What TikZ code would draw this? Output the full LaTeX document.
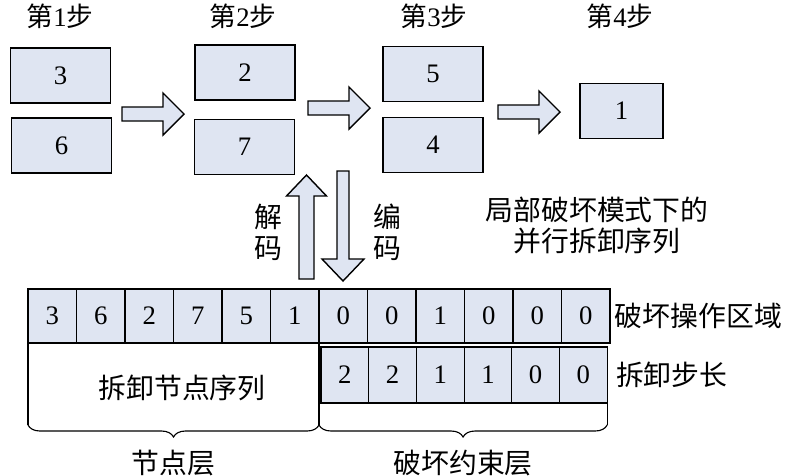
\documentclass[tikz,border=0pt]{standalone}
\usepackage{fontspec}
\usepackage{xcolor}
\usepackage{tikz}
\setmainfont{Liberation Serif}
\newfontfamily\cjk{Noto Sans CJK SC}
\usetikzlibrary{positioning,calc,decorations.pathreplacing}

\definecolor{boxfill}{RGB}{223,229,242}
\newcommand{\stepno}[1]{{\cjk 第}#1{\cjk 步}}

\begin{document}
\begin{tikzpicture}[x=0.025cm, y=-0.025cm, font=\fontsize{19}{22}\selectfont,
    blk/.style={draw, line width=1pt, fill=boxfill, minimum width=2.5cm, minimum height=1.375cm},
    cell/.style={draw, line width=0.8pt, fill=boxfill, minimum width=1.2125cm, minimum height=1.35cm, outer sep=0pt},
    cellb/.style={cell, minimum width=1.19cm, minimum height=1.4cm},
    fat/.style={draw, line width=1pt, fill=boxfill, line join=miter},
    cn/.style={font=\fontsize{19.8}{22}\selectfont\cjk}]
    \useasboundingbox (0,0) rectangle (800,475);

    % steps
    \node (s1) at (60,16) {\stepno{1}};
    \node (s2) at (243,16) {\stepno{2}};
    \node (s3) at (434,16) {\stepno{3}};
    \node (s4) at (620,16) {\stepno{4}};

    \node[blk] (b3) at (60.5,75.5) {3};
    \node[blk] (b6) at (61.5,145.5) {6};
    \node[blk] (b2) at (245,72.5) {2};
    \node[blk] (b7) at (244.5,147) {7};
    \node[blk] (b5) at (433,74) {5};
    \node[blk] (b4) at (433,145) {4};
    \node[blk, minimum width=2.08cm] (b1) at (621.5,111) {1};

    % block arrows between steps
    \coordinate (a1) at (122,114);
    \coordinate (a2) at (308,108);
    \coordinate (a3) at (498,112);
    \foreach \a in {a1,a2,a3}
        \draw[fat] (\a) -- ++(0,-7) -- ++(41,0) -- ++(0,-14) -- ++(21,21)
            -- ++(-21,21) -- ++(0,-14) -- ++(-41,0) -- cycle;

    % decode / encode
    \coordinate (up) at (306.5,279);
    \coordinate (dn) at (343,171);
    \draw[fat] (up) -- ++(7.5,0) -- ++(0,-83) -- ++(12.5,0) -- ++(-20,-21)
        -- ++(-20,21) -- ++(12.5,0) -- ++(0,83) -- cycle;
    \draw[fat] (dn) -- ++(6,0) -- ++(0,88) -- ++(15,0) -- ++(-21,22)
        -- ++(-21,-22) -- ++(15,0) -- ++(0,-88) -- cycle;
    \node[cn, align=center] (dec) at (268,232) {解\\码};
    \node[cn, align=center] (enc) at (387,232) {编\\码};

    \node[cn, align=center] (par) at (597,225) {局部破坏模式下的\\并行拆卸序列};

    % chromosome
    \foreach \v [count=\i] in {3,6,2,7,5,1,0,0,1,0,0,0}
        \node[cell] (c\i) at ({28+48.5*(\i-0.5)},316) {\v};
    \foreach \v [count=\i] in {2,2,1,1,0,0}
        \node[cellb] (d\i) at ({321+47.7*(\i-0.5)},375) {\v};

    \node[cn, right=0cm of c12] (area) {破坏操作区域};
    \node[cn, right=0.1cm of d6] (len) {拆卸步长};
    \node[cn] (seq) at (182,388) {拆卸节点序列};

    % braces
    \coordinate (base) at (0,425);
    \coordinate (bl) at (c1.south west |- base);
    \coordinate (bm) at (c6.south east |- base);
    \coordinate (br) at (d6.south east |- base);
    \draw[line width=0.8pt] (c1.south west) -- (bl);
    \draw[line width=0.8pt] (c6.south east) -- (bm);
    \draw[line width=0.8pt] (d6.south east) -- (br);
    \draw[line width=0.8pt, decorate, decoration={brace, mirror, amplitude=0.3cm}] (bl) -- (bm);
    \draw[line width=0.8pt, decorate, decoration={brace, mirror, amplitude=0.3cm}] (bm) -- (br);

    \node[cn, below=0.5cm of {$(bl)!0.5!(bm)$}] (lay1) {节点层};
    \node[cn, below=0.5cm of {$(bm)!0.5!(br)$}] (lay2) {破坏约束层};
\end{tikzpicture}
\end{document}
